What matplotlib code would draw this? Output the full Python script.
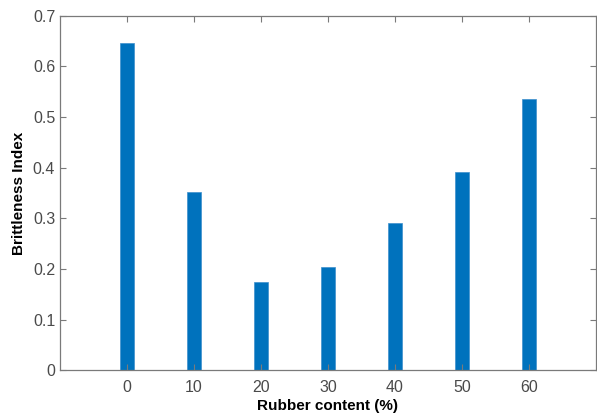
import numpy as np
import matplotlib.pyplot as plt

plt.rcParams['font.family'] = ['Liberation Sans', 'DejaVu Sans']

# data
rubber = [0, 10, 20, 30, 40, 50, 60]
brittleness = [0.645, 0.352, 0.174, 0.204, 0.290, 0.391, 0.536]

fig = plt.figure(figsize=(5.97, 4.20), dpi=100)
ax = fig.add_axes([0.1005, 0.118, 0.8975, 0.845])

ax.bar(rubber, brittleness, width=2.0, color='#0072BD', edgecolor='#3d8fcc', linewidth=0.5)

ax.set_xlim(-10, 70)
ax.set_ylim(0, 0.7)
ax.set_xticks(rubber)
ax.set_yticks(np.arange(0, 0.71, 0.1))
ax.set_yticklabels(['0', '0.1', '0.2', '0.3', '0.4', '0.5', '0.6', '0.7'])

axis_col = '#7a7a7a'
for s in ax.spines.values():
    s.set_color(axis_col)
    s.set_linewidth(0.9)
ax.tick_params(direction='in', length=4, width=0.8, color=axis_col,
               labelcolor='#4a4a4a', labelsize=11.5, top=True, right=True)
ax.tick_params(axis='x', pad=7)

ax.set_xlabel('Rubber content (%)', fontsize=11, fontweight='bold', labelpad=3)
ax.set_ylabel('Brittleness Index', fontsize=11, fontweight='bold', labelpad=5)

fig.savefig('out.png', dpi=100)
